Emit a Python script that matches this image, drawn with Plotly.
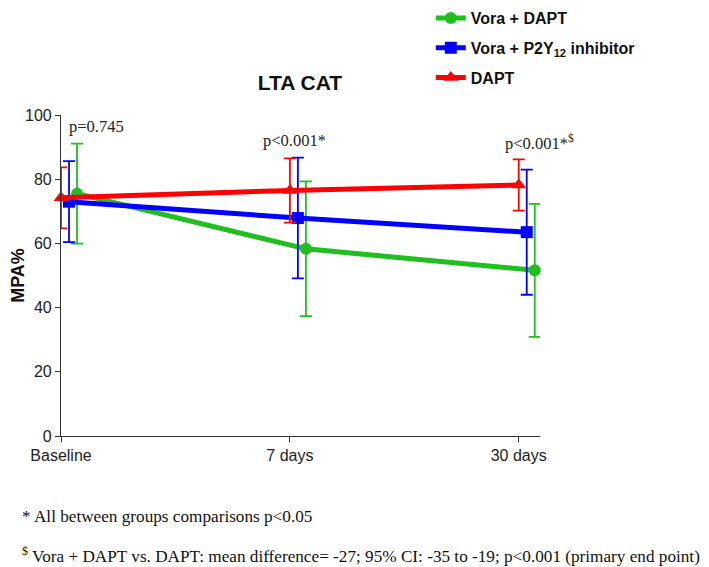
import plotly.graph_objects as go

categories = ["Baseline", "7 days", "30 days"]
series_names = ["Vora + DAPT", "Vora + P2Y<sub>12</sub> inhibitor", "DAPT"]
vora_dapt_mean = [75.5, 58.3, 51.6]
vora_dapt_err = [15.6, 21.0, 20.7]
vora_p2y_mean = [73.0, 67.9, 63.5]
vora_p2y_err = [12.6, 18.8, 19.5]
dapt_mean = [74.2, 76.5, 78.2]
dapt_err = [9.5, 10.0, 8.0]
p_labels = ["p=0.745", "p<0.001*", "p<0.001*<sup>$</sup>"]
footnote1 = "* All between groups comparisons p<0.05"
footnote2 = "<sup>$</sup> Vora + DAPT vs. DAPT: mean difference= -27; 95% CI: -35 to -19; p<0.001 (primary end point)"

colors = ["#1fbf1f", "#0000ff", "#ff0000"]
symbols = ["circle", "square", "triangle-up"]
msizes = [12, 12, 13]
offsets = [0.07, 0.035, 0.0]
means = [vora_dapt_mean, vora_p2y_mean, dapt_mean]
errs = [vora_dapt_err, vora_p2y_err, dapt_err]

fig = go.Figure()
xs = list(range(len(categories)))
for i, (name, m, e, c, s, ms, off) in enumerate(zip(series_names, means, errs, colors, symbols, msizes, offsets)):
    fig.add_trace(go.Scatter(
        x=[x + off for x in xs], y=m, name=name, mode="lines+markers", legendgroup=f"g{i}",
        line=dict(color=c, width=5),
        marker=dict(color=c, symbol=s, size=ms),
        error_y=dict(type="data", array=e, visible=True, color=c, thickness=1.8, width=6),
        cliponaxis=False,
    ))

serif = "Liberation Serif, Times New Roman, serif"
sans = "Liberation Sans, Arial, sans-serif"
p_pos = [(0.027, 96.3, "left"), (1.02, 92.2, "center"), (2.09, 91.3, "center")]
for (px, py, al), lab in zip(p_pos, p_labels):
    fig.add_annotation(x=px, y=py, text=lab, showarrow=False, xanchor=al, yanchor="middle",
                       font=dict(family=serif, size=16.5, color="#222"))

fig.add_annotation(xref="paper", yref="paper", x=-0.0856, y=-0.252, text=footnote1, showarrow=False,
                   xanchor="left", yanchor="middle", font=dict(family=serif, size=17.2, color="#111"))
fig.add_annotation(xref="paper", yref="paper", x=-0.0856, y=-0.371, text=footnote2, showarrow=False,
                   xanchor="left", yanchor="middle", font=dict(family=serif, size=17.2, color="#111"))

fig.update_layout(
    width=701, height=559,
    margin=dict(l=53, r=169, t=107, b=131, autoexpand=False),
    paper_bgcolor="white", plot_bgcolor="white",
    title=dict(text="<b>LTA CAT</b>", x=292 / 701, xanchor="center", y=1 - 75 / 559, yanchor="middle",
               font=dict(family=sans, size=21, color="#111")),
    showlegend=True,
    legend=dict(x=0.772, y=1.355, xanchor="left", yanchor="top", font=dict(family=sans, size=16, color="#111", weight="bold"),
                tracegroupgap=6, itemwidth=30, bgcolor="rgba(0,0,0,0)"),
    xaxis=dict(range=[0, 2.093], tickvals=xs, ticktext=categories, showgrid=False, zeroline=False,
               showline=True, linecolor="#333", linewidth=1.2, ticks="outside", ticklen=5, tickcolor="#333",
               tickfont=dict(family=sans, size=16, color="#222")),
    yaxis=dict(range=[0, 100], tickvals=[0, 20, 40, 60, 80, 100], showgrid=False, zeroline=False,
               showline=True, linecolor="#333", linewidth=1.2, ticks="outside", ticklen=5, tickcolor="#333",
               tickfont=dict(family=sans, size=16, color="#222"),
               title=dict(text="<b>MPA%</b>", font=dict(family=sans, size=18, color="#111"), standoff=5)),
)

fig.write_html("out.html")
